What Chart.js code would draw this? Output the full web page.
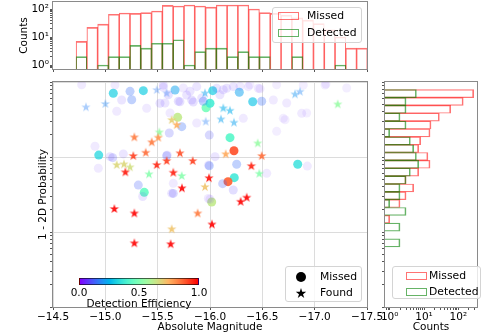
<!DOCTYPE html>
<html>
<head>
<meta charset="utf-8">
<script src="https://cdn.jsdelivr.net/npm/chart.js@4.4.1/dist/chart.umd.min.js"></script>
<style>
  body { margin: 0; width: 484px; height: 336px; position: relative; background: #fff; overflow: hidden;
         font-family: "DejaVu Sans", sans-serif; color: #000; }
  canvas { position: absolute; }
  .box { position: absolute; border: 1px solid #d4d4d4; border-radius: 3px; background: rgba(255,255,255,0.8); box-sizing: border-box; }
  .patch { position: absolute; width: 21px; height: 8px; box-sizing: border-box; border: 1px solid; }
  .txt { position: absolute; font-size: 10.8px; line-height: 12px; white-space: nowrap; }
  .lab { position: absolute; font-size: 10.5px; line-height: 12px; white-space: nowrap; transform: translateX(-50%); }
</style>
</head>
<body>
<canvas id="top" width="380" height="80" style="left:0;top:0"></canvas>
<canvas id="main" width="400" height="261" style="left:0;top:75px"></canvas>
<canvas id="side" width="106" height="261" style="left:378px;top:75px"></canvas>

<!-- legend of the top histogram -->
<div class="box" style="left:272px;top:7px;width:90px;height:36px">
  <div class="patch" id="pTopM" style="left:5px;top:4px"></div>
  <div class="txt" style="left:34px;top:2px">Missed</div>
  <div class="patch" id="pTopD" style="left:5px;top:21px"></div>
  <div class="txt" style="left:34px;top:19px">Detected</div>
</div>

<!-- legend of the scatter -->
<div class="box" style="left:285px;top:266px;width:77px;height:36px">
  <div style="position:absolute;left:10px;top:5px;width:10px;height:10px;border-radius:50%;background:#000"></div>
  <svg style="position:absolute;left:9px;top:20px" width="12" height="12"><polygon id="legStar" fill="#000"></polygon></svg>
  <div class="txt" style="left:34px;top:4px">Missed</div>
  <div class="txt" style="left:34px;top:20px">Found</div>
</div>

<!-- legend of the side histogram -->
<div class="box" style="left:392px;top:266px;width:89px;height:33px">
  <div class="patch" id="pSideM" style="left:13px;top:5px"></div>
  <div class="txt" style="left:36px;top:3px">Missed</div>
  <div class="patch" id="pSideD" style="left:13px;top:21px"></div>
  <div class="txt" style="left:36px;top:19px">Detected</div>
</div>

<!-- colorbar -->
<div id="cbar" style="position:absolute;left:79px;top:278px;width:120px;height:7px;box-sizing:border-box;border:0.8px solid rgba(0,0,0,0.6)"></div>
<div class="lab" style="left:79px;top:286px">0.0</div>
<div class="lab" style="left:139px;top:286px">0.5</div>
<div class="lab" style="left:199px;top:286px">1.0</div>
<div class="lab" style="left:139px;top:297px">Detection Efficiency</div>

<script>
// ---------------- data ----------------
// top histogram: absolute magnitude bins
const magBins = [-14.772, -14.875, -14.978, -15.081, -15.184, -15.287, -15.390, -15.493, -15.596,
  -15.700, -15.803, -15.906, -16.009, -16.112, -16.215, -16.318, -16.421, -16.524, -16.627,
  -16.731, -16.834, -16.937, -17.040, -17.143, -17.246, -17.349, -17.452];
const missedByMag = [7, 22, 29, 65, 72, 70, 74, 85, 135, 128, 139, 128, 117, 139, 139, 139, 100,
  74, 70, 60, 48, 40, 30, 18, 10, 4, 4];
const detectedByMag = [2, null, 1, 2, 2, 5, 4, 6, 6, 8, 1, 3, 4, 4, 2, 3, 2, 2, null, null, 2,
  null, null, null, 1, null, null];

// side histogram: 1 - 2D probability bins
const probBins = [0.700, 0.550, 0.4315, 0.3396, 0.2667, 0.2094, 0.1644, 0.1294, 0.1016, 0.0798,
  0.0628, 0.0493, 0.0387, 0.0304, 0.0239, 0.0188, 0.0148, 0.0116, 0.00912, 0.00716];
const missedByProb = [280, 139, 60, 28, 16, 15, 8, 7, 13, 15, 7, 3, 5, 3, 2, null, 1, null, null, null];
const detectedByProb = [6, 3, 3, 2, 3, 1, 4, 5, 6, 7, 4, 3, 2, 2, 1, 3, null, 2, null, 2];

// scatter: missed events (circles)
const missedMag = [-15.076, -15.363, -15.666, -16.026, -16.280, -16.408, -15.962, -16.000, -15.691,
  -16.191, -16.229, -14.937, -16.838, -16.232, -16.172, -15.372, -16.016,
  -15.236, -15.252, -15.730, -16.255, -15.993, -16.121, -15.315, -15.649, -15.993, -15.611,
  -15.586, -15.070, -16.222, -16.494, -15.936, -16.000, -16.930,
  -14.774, -15.554, -15.602, -15.570, -15.697, -15.745, -15.840, -15.809, -15.618, -15.873,
  -16.127, -16.287, -16.382, -16.478, -16.637, -16.924, -17.108, -17.306, -16.733, -16.717,
  -16.637, -16.095, -15.921, -15.109, -14.901, -15.172, -15.045, -14.933, -15.357, -15.634,
  -15.649, -15.984, -15.984, -16.048, -15.592, -16.542,
  -15.092, -15.156, -15.395, -15.522, -15.554, -15.713, -15.777, -15.825, -15.873, -16.064,
  -16.160, -16.223, -16.366, -16.461, -16.605, -16.700, -16.876, -16.891, -17.099, -16.318];
const missedProb = [0.707, 0.766, 0.782, 0.766, 0.729, 0.546, 0.454, 0.520, 0.338,
  0.181, 0.121, 0.106, 0.080, 0.053, 0.0469, 0.0338, 0.0251,
  0.751, 0.580, 0.254, 0.080, 0.0765, 0.0441, 0.0422, 0.0327, 0.196, 0.209,
  0.104, 0.098, 0.0363, 0.553, 0.553, 0.0273, 0.0757,
  0.92, 0.85, 0.677, 0.525, 0.553, 0.832, 0.541, 0.751, 0.386, 0.284,
  0.789, 0.876, 0.92, 0.814, 0.92, 0.386, 0.94, 0.832, 0.525, 0.314,
  0.22, 0.677, 0.612, 0.407, 0.139, 0.110, 0.101, 0.0707, 0.0297, 0.0328,
  0.0445, 0.028, 0.078, 0.101, 0.1065, 0.0606,
  0.912, 0.575, 0.446, 0.52, 0.912, 0.546, 0.671, 0.575, 0.866, 0.824,
  0.824, 0.866, 0.866, 0.824, 0.575, 0.328, 0.382, 0.912, 0.912, 0.328];
const missedEff = [0.30, 0.30, 0.22, 0.30, 0.22, 0.28, 0.48, 0.38, 0.63,
  0.42, 0.90, 0.32, 0.34, 0.36, 0.88, 0.45, 0.63,
  0.14, 0.14, 0.14, 0.14, 0.14, 0.12, 0.12, 0.10, 0.10, 0.10,
  0.12, 0.10, 0.08, 0.14, 0.14, 0.05, 0.05,
  0.05, 0.06, 0.07, 0.06, 0.07, 0.05, 0.07, 0.06, 0.05, 0.05,
  0.06, 0.05, 0.04, 0.05, 0.04, 0.04, 0.04, 0.04, 0.05, 0.04,
  0.04, 0.06, 0.06, 0.05, 0.05, 0.06, 0.06, 0.05, 0.06, 0.06,
  0.05, 0.05, 0.05, 0.06, 0.05, 0.05,
  0.05, 0.06, 0.05, 0.07, 0.06, 0.07, 0.06, 0.07, 0.06, 0.06,
  0.06, 0.06, 0.05, 0.05, 0.05, 0.04, 0.05, 0.04, 0.04, 0.05];

// scatter: found events (stars)
const foundMag = [-14.815, -15.000, -15.491, -15.586, -15.952, -16.812, -16.860, -17.220, -16.127,
  -16.191, -15.959, -16.105, -16.229, -15.634, -15.682, -15.516, -15.277, -15.443, -15.506,
  -16.456, -15.267, -15.386, -15.713, -16.150, -16.494, -15.109, -15.178, -15.236, -15.191,
  -15.491, -15.586, -15.835, -15.649, -15.417, -15.730, -15.990, -16.395, -16.471, -15.732,
  -15.952, -16.293, -16.351, -15.086, -15.277, -15.882, -16.019, -15.634, -15.277, -15.624];
const foundProb = [0.46, 0.509, 0.782, 0.707, 0.707, 0.685, 0.742, 0.504, 0.446,
  0.414, 0.296, 0.318, 0.287, 0.311, 0.267, 0.213, 0.183, 0.157, 0.181,
  0.152, 0.103, 0.114, 0.112, 0.109, 0.103, 0.0781, 0.0799, 0.0729, 0.0625,
  0.0781, 0.0884, 0.0884, 0.0617, 0.0588, 0.0559, 0.0522, 0.0757, 0.0599, 0.0383,
  0.0398, 0.0253, 0.0287, 0.0203, 0.0177, 0.0177, 0.0126, 0.0109, 0.00707, 0.00687];
const foundEff = [0.17, 0.18, 0.16, 0.16, 0.22, 0.20, 0.18, 0.55, 0.24,
  0.24, 0.17, 0.22, 0.22, 0.70, 0.76, 0.55, 0.84, 0.84, 0.80,
  0.55, 0.92, 0.86, 0.90, 0.77, 0.86, 0.68, 0.68, 0.66, 0.97,
  0.95, 0.92, 0.92, 0.96, 0.52, 0.52, 0.98, 0.96, 0.52, 1.0,
  0.72, 1.0, 1.0, 1.0, 1.0, 0.84, 1.0, 0.72, 1.0, 1.0];

const countDecades = [1, 10, 100];
const magTickStep = 0.5;

// ---------------- styling helpers ----------------
const RED = "rgba(255,0,0,0.55)";
const GREEN = "rgba(0,128,0,0.6)";
const GRID = "#dcdcdc";
const TICK = "#555";
const FRAME = "#8a8a8a";
const FONT = { family: "'DejaVu Sans', sans-serif", size: 10.5 };

Chart.defaults.font.family = FONT.family;
Chart.defaults.font.size = FONT.size;
Chart.defaults.color = "#000";

function rainbow(t, a) {
  const r = Math.min(1, Math.abs(2 * t - 0.5));
  const g = Math.max(0, Math.sin(Math.PI * t));
  const b = Math.max(0, Math.cos(Math.PI * t / 2));
  return `rgba(${Math.round(r * 255)},${Math.round(g * 255)},${Math.round(b * 255)},${a})`;
}
const alphaFor = (e) => Math.max(0.08, Math.min(0.9, 2.4 * e - 0.02));

const SUP = { "-": "\u207b", "0": "\u2070", "1": "\u00b9", "2": "\u00b2", "3": "\u00b3" };
function decadeLabel(v) {
  const e = Math.round(Math.log10(v));
  return "10" + String(e).split("").map((c) => SUP[c]).join("");
}
const isDecade = (v) => Math.abs(Math.log10(v) - Math.round(Math.log10(v))) < 1e-6;

// tick marks 1..9 x 10^n inside [min, max]
function logTicks(min, max) {
  const out = [];
  for (let e = Math.floor(Math.log10(min)); e <= Math.ceil(Math.log10(max)); e++) {
    for (let k = 1; k < 10; k++) {
      const v = k * Math.pow(10, e);
      if (v >= min * 0.9999 && v <= max * 1.0001) out.push({ value: v, major: k === 1 });
    }
  }
  return out;
}

function fixSize(prop, v) {
  return (s) => {
    s[prop] = v;
    s.paddingLeft = s.paddingRight = s.paddingTop = s.paddingBottom = 0;
  };
}

const frame = {
  id: "frame",
  afterDatasetsDraw(chart) {
    const { ctx, chartArea: a } = chart;
    ctx.save();
    ctx.strokeStyle = FRAME;
    ctx.lineWidth = 1;
    ctx.strokeRect(Math.round(a.left) - 0.5, Math.round(a.top) - 0.5,
      Math.round(a.right - a.left) + 1, Math.round(a.bottom - a.top) + 1);
    ctx.restore();
  },
};

const starCache = {};
function starImage(color) {
  if (starCache[color]) return starCache[color];
  const c = document.createElement("canvas");
  c.width = c.height = 12;
  const g = c.getContext("2d");
  g.beginPath();
  for (let i = 0; i < 10; i++) {
    const r = i % 2 ? 1.9 : 4.9;
    const a = -Math.PI / 2 + (i * Math.PI) / 5;
    g.lineTo(6 + r * Math.cos(a), 6 + r * Math.sin(a));
  }
  g.closePath();
  g.fillStyle = color;
  g.fill();
  starCache[color] = c;
  return c;
}

// both series share one "stack" slot so their bars overlap; value axis is not stacked
const barDefaults = {
  stack: "hist",
  barThickness: "flex",
  categoryPercentage: 1,
  barPercentage: 1,
  backgroundColor: "rgba(0,0,0,0)",
};
const common = {
  responsive: false,
  animation: false,
  devicePixelRatio: 1,
  events: [],
};

// ---------------- top histogram ----------------
new Chart(document.getElementById("top"), {
  type: "bar",
  data: {
    datasets: [
      { label: "Detected", data: magBins.map((x, i) => ({ x, y: detectedByMag[i] })), borderColor: GREEN, ...barDefaults,
        borderWidth: { top: 1, left: 0.5, right: 0.5, bottom: 0 }, borderSkipped: false },
      { label: "Missed", data: magBins.map((x, i) => ({ x, y: missedByMag[i] })), borderColor: RED, ...barDefaults,
        borderWidth: { top: 1, left: 0.5, right: 0.5, bottom: 0 }, borderSkipped: false },
    ],
  },
  options: {
    ...common,
    layout: { padding: { left: 14, top: 2, right: 13, bottom: 0 } },
    plugins: { legend: { display: false }, tooltip: { enabled: false } },
    scales: {
      x: {
        type: "linear", min: -17.5, max: -14.5, reverse: true, offset: false,
        border: { display: false },
        grid: { drawOnChartArea: false, tickLength: 3, tickColor: TICK, offset: false },
        ticks: { display: false, stepSize: magTickStep },
        afterFit: fixSize("height", 11),
      },
      y: {
        type: "logarithmic", min: 0.72, max: 178, bounds: "data", stacked: false,
        border: { display: false },
        grid: { drawOnChartArea: false, tickLength: 3, tickColor: TICK },
        afterBuildTicks: (s) => { s.ticks = logTicks(0.72, 178); },
        ticks: { autoSkip: false, padding: 1, callback: (v) => (countDecades.includes(Math.round(v)) && isDecade(v) ? decadeLabel(v) : "") },
        title: { display: true, text: "Counts", padding: { top: 4, bottom: 2 } },
        afterFit: fixSize("width", 39),
      },
    },
  },
  plugins: [frame],
});

// ---------------- main scatter ----------------
new Chart(document.getElementById("main"), {
  type: "scatter",
  data: {
    datasets: [
      {
        label: "Found",
        data: foundMag.map((x, i) => ({ x, y: foundProb[i] })),
        pointStyle: (c) => starImage(rainbow(foundEff[c.dataIndex], alphaFor(foundEff[c.dataIndex]))),
        pointRadius: 5,
        clip: 0,
      },
      {
        label: "Missed",
        data: missedMag.map((x, i) => ({ x, y: missedProb[i] })),
        pointStyle: "circle",
        pointRadius: 4.5,
        borderWidth: 0,
        backgroundColor: (c) => rainbow(missedEff[c.dataIndex], alphaFor(missedEff[c.dataIndex])),
        clip: 0,
      },
    ],
  },
  options: {
    ...common,
    layout: { padding: { left: 33, top: 7, right: 33, bottom: 0 } },
    plugins: { legend: { display: false }, tooltip: { enabled: false } },
    scales: {
      x: {
        type: "linear", min: -17.5, max: -14.5, reverse: true,
        border: { display: false },
        grid: { color: GRID, tickLength: 3, tickColor: TICK },
        ticks: { stepSize: magTickStep, padding: 1, autoSkip: false,
                 callback: (v) => (v < 0 ? "\u2212" : "") + Math.abs(v).toFixed(1) },
        title: { display: true, text: "Absolute Magnitude", padding: { top: 2, bottom: 2 } },
        afterFit: fixSize("height", 29),
      },
      y: {
        type: "logarithmic", min: 0.001, max: 1, bounds: "data",
        border: { display: false },
        grid: { color: (c) => (c.tick && c.tick.major ? GRID : "rgba(0,0,0,0)"), tickLength: 3, tickColor: TICK },
        afterBuildTicks: (s) => { s.ticks = logTicks(0.001, 1); },
        ticks: { display: false },
        title: { display: true, text: "1 - 2D Probability", padding: { top: 4, bottom: 2 } },
        afterFit: fixSize("width", 20),
      },
    },
  },
  plugins: [frame],
});

// ---------------- side histogram ----------------
new Chart(document.getElementById("side"), {
  type: "bar",
  data: {
    datasets: [
      { label: "Detected", data: probBins.map((y, i) => ({ y, x: detectedByProb[i] })), borderColor: GREEN, ...barDefaults,
        borderWidth: { right: 1, top: 0.5, bottom: 0.5, left: 0 }, borderSkipped: false },
      { label: "Missed", data: probBins.map((y, i) => ({ y, x: missedByProb[i] })), borderColor: RED, ...barDefaults,
        borderWidth: { right: 1, top: 0.5, bottom: 0.5, left: 0 }, borderSkipped: false },
    ],
  },
  options: {
    ...common,
    indexAxis: "y",
    layout: { padding: { left: 4, top: 7, right: 7, bottom: 0 } },
    plugins: { legend: { display: false }, tooltip: { enabled: false } },
    scales: {
      x: {
        type: "logarithmic", min: 0.73, max: 350, bounds: "data", stacked: false,
        border: { display: false },
        grid: { drawOnChartArea: false, tickLength: 3, tickColor: TICK },
        afterBuildTicks: (s) => { s.ticks = logTicks(0.73, 350); },
        ticks: { autoSkip: false, padding: 1, maxRotation: 0,
                 callback: (v) => (countDecades.includes(Math.round(v)) && isDecade(v) ? decadeLabel(v) : "") },
        title: { display: true, text: "Counts", padding: { top: 2, bottom: 2 } },
        afterFit: fixSize("height", 29),
      },
      y: {
        type: "logarithmic", min: 0.001, max: 1, bounds: "data", offset: false,
        border: { display: false },
        grid: { drawOnChartArea: false, tickLength: 3, tickColor: TICK, offset: false },
        afterBuildTicks: (s) => { s.ticks = logTicks(0.001, 1); },
        ticks: { display: false },
        afterFit: fixSize("width", 3),
      },
    },
  },
  plugins: [frame],
});

// ---------------- legends & colorbar decoration ----------------
for (const [id, col] of [["pTopM", RED], ["pTopD", GREEN], ["pSideM", RED], ["pSideD", GREEN]]) {
  document.getElementById(id).style.borderColor = col;
}
const pts = [];
for (let i = 0; i < 10; i++) {
  const r = i % 2 ? 2.1 : 5.5;
  const a = -Math.PI / 2 + (i * Math.PI) / 5;
  pts.push((6 + r * Math.cos(a)).toFixed(2) + "," + (6.5 + r * Math.sin(a)).toFixed(2));
}
document.getElementById("legStar").setAttribute("points", pts.join(" "));
const stops = [];
for (let i = 0; i <= 20; i++) stops.push(rainbow(i / 20, 1) + " " + (i * 5) + "%");
document.getElementById("cbar").style.background = "linear-gradient(to right," + stops.join(",") + ")";
</script>
</body>
</html>
